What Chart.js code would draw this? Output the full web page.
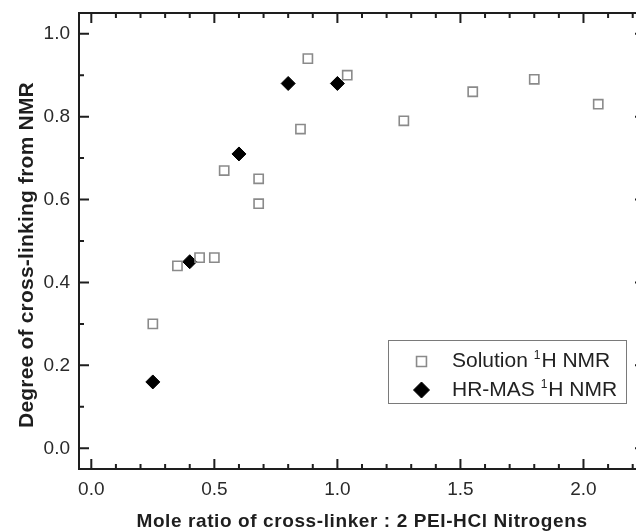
<!DOCTYPE html>
<html>
<head>
<meta charset="utf-8">
<script src="https://cdn.jsdelivr.net/npm/chart.js@4.4.1/dist/chart.umd.min.js"></script>
<style>
  html, body { margin: 0; padding: 0; background: #fff; }
  #wrap { width: 636px; height: 532px; overflow: hidden; }
  canvas { display: block; }
</style>
</head>
<body>
<div id="wrap"><canvas id="crosslinkChart" width="660" height="532"></canvas></div>
<script>
// ======================
// DATA
// ======================
const solutionRatio = [0.25, 0.35, 0.44, 0.50, 0.54, 0.68, 0.68, 0.85, 0.88, 1.04, 1.27, 1.55, 1.80, 2.06];
const solutionDegree = [0.30, 0.44, 0.46, 0.46, 0.67, 0.65, 0.59, 0.77, 0.94, 0.90, 0.79, 0.86, 0.89, 0.83];

const hrmasRatio = [0.25, 0.40, 0.60, 0.80, 1.00];
const hrmasDegree = [0.16, 0.45, 0.71, 0.88, 0.88];

const seriesLabels = ["Solution ¹H NMR", "HR-MAS ¹H NMR"];

const xTickLabels = ["0.0", "0.5", "1.0", "1.5", "2.0"];
const yTickLabels = ["0.0", "0.2", "0.4", "0.6", "0.8", "1.0"];

const xTitle = "Mole ratio of cross-linker : 2 PEI-HCl Nitrogens";
const yTitle = "Degree of cross-linking from NMR";

const FONT = "'Liberation Sans', Arial, sans-serif";
const INK = "#1e1e1e";

// ======================
// HELPERS
// ======================
function toPoints(xs, ys) {
  return xs.map((x, i) => ({ x: x, y: ys[i] }));
}

// minor ticks every 0.1, labels only where a tick label exists
function minorTicks(scale) {
  const ticks = [];
  for (let i = 0; i / 10 <= scale.max + 1e-9; i++) {
    ticks.push({ value: i / 10 });
  }
  scale.ticks = ticks;
}

function labelFrom(list) {
  return (value) => {
    const s = Number(value).toFixed(1);
    return list.includes(s) ? s : "";
  };
}

// no extra room for end labels, the frame is placed by layout padding
function fitX(scale) {
  scale.height = 63;
  scale.paddingLeft = 0;
  scale.paddingRight = 0;
}

function fitY(scale) {
  scale.width = 79;
  scale.paddingTop = 0;
  scale.paddingBottom = 0;
}

// ======================
// FRAME + INWARD TICKS
// ======================
const framePlugin = {
  id: "frame",
  beforeDatasetsDraw(chart) {
    const { ctx, chartArea: a } = chart;
    const xs = chart.scales.x;
    const ys = chart.scales.y;

    ctx.save();
    ctx.strokeStyle = INK;
    ctx.lineWidth = 2;
    ctx.beginPath();

    xs.ticks.forEach(t => {
      const px = xs.getPixelForValue(t.value);
      const len = t.label ? 10 : 5;
      ctx.moveTo(px, a.bottom);
      ctx.lineTo(px, a.bottom - len);
      ctx.moveTo(px, a.top);
      ctx.lineTo(px, a.top + len);
    });

    ys.ticks.forEach(t => {
      const py = ys.getPixelForValue(t.value);
      const len = t.label ? 10 : 5;
      ctx.moveTo(a.left, py);
      ctx.lineTo(a.left + len, py);
      ctx.moveTo(a.right, py);
      ctx.lineTo(a.right - len, py);
    });

    ctx.rect(a.left, a.top, a.right - a.left, a.bottom - a.top);
    ctx.stroke();
    ctx.restore();
  },
  afterDraw(chart) {
    const { ctx, chartArea: a } = chart;
    ctx.save();
    ctx.fillStyle = INK;

    // x title
    ctx.font = "bold 19px " + FONT;
    ctx.letterSpacing = "0.6px";
    ctx.textAlign = "center";
    ctx.textBaseline = "alphabetic";
    ctx.fillText(xTitle, (a.left + a.right) / 2, 527);

    // y title
    ctx.font = "bold 21px " + FONT;
    ctx.letterSpacing = "0.2px";
    ctx.translate(33, 255);
    ctx.rotate(-Math.PI / 2);
    ctx.fillText(yTitle, 0, 0);
    ctx.restore();
  }
};

// ======================
// LEGEND (boxed, with superscript)
// ======================
const legendPlugin = {
  id: "boxLegend",
  afterDraw(chart) {
    const ctx = chart.ctx;
    const box = { left: 388.5, top: 340.5, right: 626.5, bottom: 403.5 };
    const rows = [361.5, 390];
    const markerX = 421.5;
    const textX = 452;

    ctx.save();
    ctx.strokeStyle = "#7a7a7a";
    ctx.lineWidth = 1;
    ctx.strokeRect(box.left, box.top, box.right - box.left, box.bottom - box.top);

    chart.data.datasets.forEach((ds, i) => {
      const y = rows[i];

      ctx.fillStyle = ds.backgroundColor;
      ctx.strokeStyle = ds.borderColor;
      ctx.lineWidth = ds.borderWidth;
      Chart.helpers.drawPoint(ctx, {
        pointStyle: ds.pointStyle,
        radius: ds.legendRadius,
        rotation: 0,
        borderWidth: ds.borderWidth
      }, markerX, y);

      const parts = seriesLabels[i].split("¹");
      const base = y + 5.5;
      let x = textX;
      ctx.fillStyle = "#222";
      ctx.textAlign = "left";
      ctx.textBaseline = "alphabetic";

      ctx.font = "21px " + FONT;
      ctx.fillText(parts[0], x, base);
      x += ctx.measureText(parts[0]).width;

      ctx.font = "12px " + FONT;
      ctx.fillText("1", x, base - 8);
      x += ctx.measureText("1").width + 1;

      ctx.font = "21px " + FONT;
      ctx.fillText(parts[1], x, base);
    });
    ctx.restore();
  }
};

// ======================
// CHART
// ======================
const ctx = document.getElementById("crosslinkChart").getContext("2d");

new Chart(ctx, {

  type: "scatter",

  data: {
    datasets: [
      {
        label: seriesLabels[0],
        data: toPoints(solutionRatio, solutionDegree),
        pointStyle: "rect",
        pointRadius: 6.5,
        legendRadius: 7,
        backgroundColor: "rgba(255,255,255,0)",
        borderColor: "#8a8a8a",
        borderWidth: 1.6
      },
      {
        label: seriesLabels[1],
        data: toPoints(hrmasRatio, hrmasDegree),
        pointStyle: "rectRot",
        pointRadius: 7,
        legendRadius: 8,
        backgroundColor: "#000",
        borderColor: "#000",
        borderWidth: 1
      }
    ]
  },

  options: {
    responsive: false,
    animation: false,
    events: [],
    layout: { padding: { top: 13, right: 15, left: 0, bottom: 0 } },
    plugins: {
      legend: { display: false },
      tooltip: { enabled: false }
    },
    scales: {
      x: {
        type: "linear",
        min: -0.05,
        max: 2.25,
        afterBuildTicks: minorTicks,
        afterFit: fitX,
        grid: { display: false, drawTicks: false },
        border: { display: false },
        ticks: {
          callback: labelFrom(xTickLabels),
          autoSkip: false,
          maxRotation: 0,
          padding: 9,
          color: "#2a2a2a",
          font: { family: FONT, size: 19 }
        }
      },
      y: {
        type: "linear",
        min: -0.05,
        max: 1.05,
        afterBuildTicks: minorTicks,
        afterFit: fitY,
        grid: { display: false, drawTicks: false },
        border: { display: false },
        ticks: {
          callback: labelFrom(yTickLabels),
          autoSkip: false,
          padding: 9,
          color: "#2a2a2a",
          font: { family: FONT, size: 19 }
        }
      }
    }
  },

  plugins: [framePlugin, legendPlugin]

});
</script>
</body>
</html>
